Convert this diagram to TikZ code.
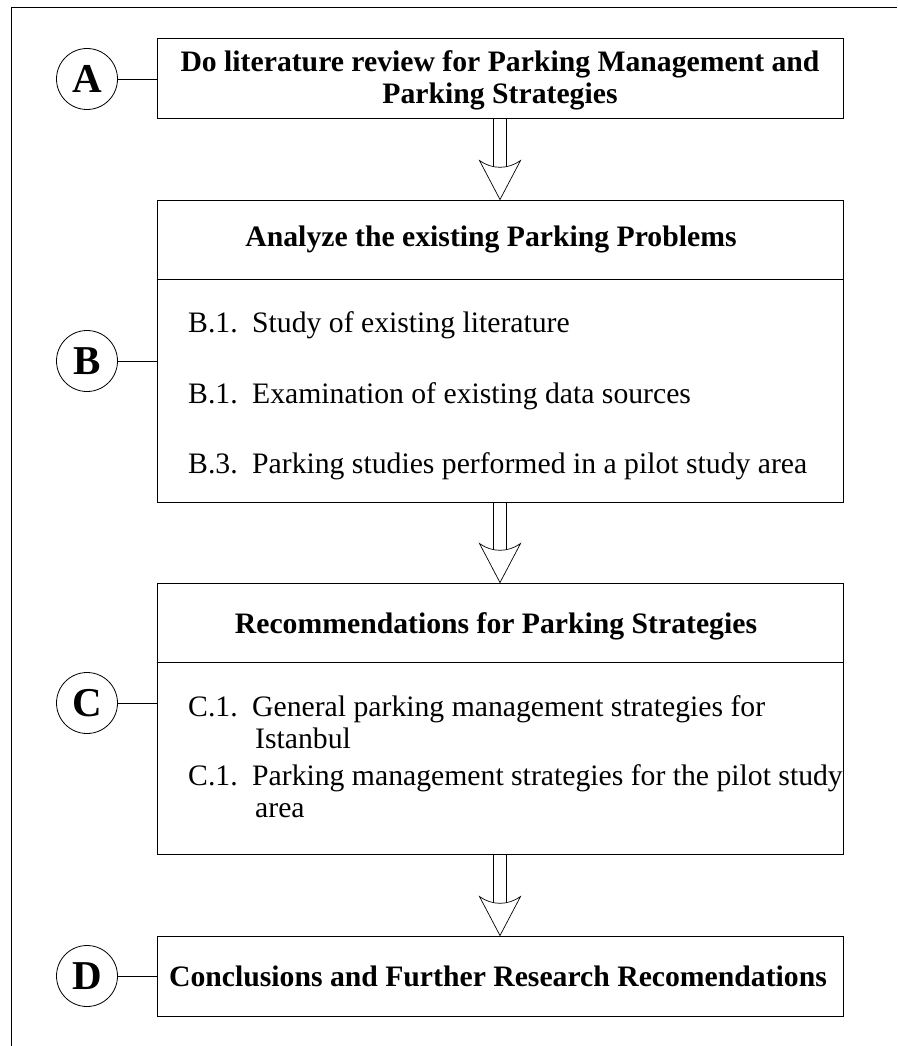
\documentclass[tikz,border=0pt]{standalone}
\usepackage{fontspec}
\setmainfont{Liberation Serif}
\usetikzlibrary{calc}

% hollow block arrow running from the bottom of one stage box to the top of the next
\newcommand{\stagearrow}[2]{%
  \draw[flowarrow] let \p1=(#1.south), \p2=(#2.north) in
    (\x1-6.5pt,\y1) -- (\x1-6.5pt,\y2+33pt)
    (\x1+6.5pt,\y1) -- (\x1+6.5pt,\y2+33pt)
    (\x1-20.5pt,\y2+39pt) .. controls (\x1-8pt,\y2+30pt) and (\x1+8pt,\y2+30pt) .. (\x1+20.5pt,\y2+39pt)
    -- (\x1,\y2) -- cycle;}

\begin{document}
\begin{tikzpicture}[x=1pt,y=-1pt,
  stagebox/.style={draw=black,line width=0.9pt,rectangle,minimum width=686pt,inner sep=0pt},
  divider/.style={line width=0.9pt},
  stagetag/.style={draw=black,line width=0.8pt,circle,minimum size=61pt,inner sep=0pt,
    font=\fontsize{41}{41}\selectfont\bfseries},
  headtext/.style={anchor=base,inner sep=0pt,font=\fontsize{29.7}{31}\selectfont\bfseries},
  itemtext/.style={anchor=base west,inner sep=0pt,font=\fontsize{29.7}{32}\selectfont},
  tagline/.style={line width=0.8pt},
  flowarrow/.style={line width=0.7pt},
  frameline/.style={line width=0.9pt}]

\useasboundingbox (0,0) rectangle (897,1046);

% outer frame (top and left edges only)
\draw[frameline] (11,1046) -- (11,7) -- (897,7);

% stage boxes
\node[stagebox,minimum height=80pt]  (A) at (500,78) {};
\node[stagebox,minimum height=302pt] (B) at (500,351) {};
\node[stagebox,minimum height=271pt] (C) at (500,718.5) {};
\node[stagebox,minimum height=80pt]  (D) at (500,976) {};

% header dividers
\draw[divider] ($(B.north west)+(0,80)$) -- ($(B.north east)+(0,80)$);
\draw[divider] ($(C.north west)+(0,80)$) -- ($(C.north east)+(0,80)$);

% headings
\node[headtext] (tA1) at (500,72) {Do literature review for Parking Management and};
\node[headtext] (tA2) at (500,103) {Parking Strategies};
\node[headtext] (tB) at (491,246) {Analyze the existing Parking Problems};
\node[headtext] (tC) at (496,633) {Recommendations for Parking Strategies};
\node[headtext] (tD) at (498,986) {Conclusions and Further Research Recomendations};

% items of stage B
\node[itemtext] (b1) at (188,332) {\makebox[64pt][l]{B.1.}Study of existing literature};
\node[itemtext] (b2) at (188,403) {\makebox[64pt][l]{B.1.}Examination of existing data sources};
\node[itemtext] (b3) at (188,473) {\makebox[64pt][l]{B.3.}Parking studies performed in a pilot study area};

% items of stage C
\node[itemtext] (c1) at (188,716) {\begin{tabular}[t]{@{}p{64pt}@{}l@{}}C.1.&General parking management strategies for\\&\hspace{3pt}Istanbul\end{tabular}};
\node[itemtext] (c2) at (188,785) {\begin{tabular}[t]{@{}p{64pt}@{}l@{}}C.1.&Parking management strategies for the pilot study\\&\hspace{3pt}area\end{tabular}};

% stage tags
\node[stagetag] (cA) at (87,79)  {A};
\node[stagetag] (cB) at (87,361) {B};
\node[stagetag] (cC) at (87,703) {C};
\node[stagetag] (cD) at (87,976) {D};

\draw[tagline] (cA.east) -- (cA.east -| A.west);
\draw[tagline] (cB.east) -- (cB.east -| B.west);
\draw[tagline] (cC.east) -- (cC.east -| C.west);
\draw[tagline] (cD.east) -- (cD.east -| D.west);

% flow between stages
\stagearrow{A}{B}
\stagearrow{B}{C}
\stagearrow{C}{D}

\end{tikzpicture}
\end{document}
